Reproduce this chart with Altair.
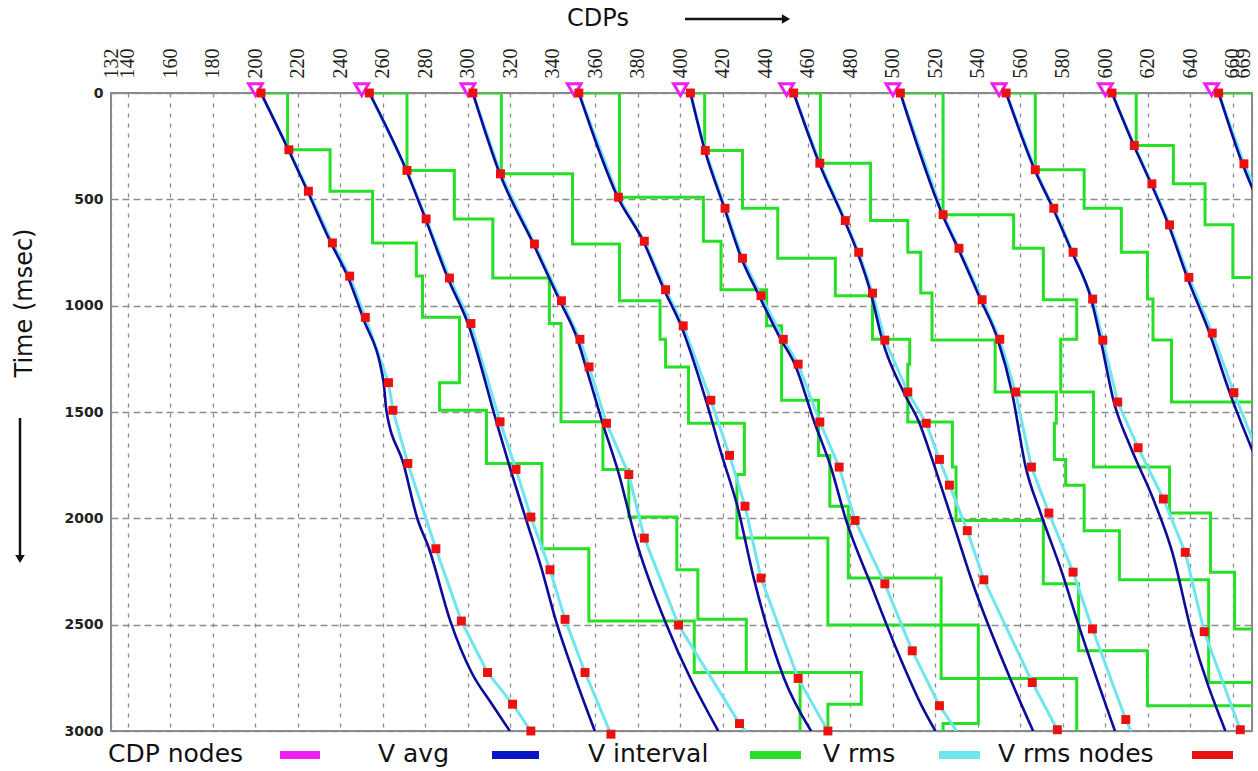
import altair as alt
import pandas as pd

# ---------------- data ----------------
X_DOMAIN = [132, 669]
T_DOMAIN = [0, 3000]
X_TICKS = [132, 140, 160, 180, 200, 220, 240, 260, 280, 300, 320, 340, 360, 380, 400,
           420, 440, 460, 480, 500, 520, 540, 560, 580, 600, 620, 640, 660, 669]
T_TICKS = [0, 500, 1000, 1500, 2000, 2500, 3000]

CDP_NODES = [200, 250, 300, 350, 400, 450, 500, 550, 600, 650]

# V rms nodes (time in msec, position in CDP units)
RMS_T = [
    [0, 267, 462, 705, 861, 1055, 1362, 1492, 1742, 2143, 2483, 2725, 2874, 3000],
    [0, 364, 592, 870, 1084, 1546, 1770, 1994, 2242, 2475, 2725, 3015],
    [0, 380, 710, 977, 1158, 1288, 1553, 1794, 2093, 2502, 2965],
    [0, 490, 697, 925, 1095, 1445, 1704, 1943, 2281, 2753, 3000],
    [0, 270, 542, 777, 953, 1158, 1275, 1547, 1759, 2010, 2308, 2623, 2881],
    [0, 330, 600, 749, 941, 1162, 1406, 1553, 1723, 1844, 2058, 2289, 2772, 2994],
    [0, 572, 730, 972, 1158, 1406, 1759, 1975, 2253, 2520, 2946],
    [0, 361, 542, 749, 969, 1162, 1453, 1668, 1909, 2160, 2533, 2994],
    [0, 247, 427, 620, 867, 1129, 1409],
    [0, 333],
]
RMS_X = [
    [202.6, 215.7, 224.9, 236.2, 244.3, 251.7, 262.6, 264.7, 271.7, 284.9, 296.9, 309.2, 321.0, 329.6],
    [253.6, 271.3, 280.3, 291.3, 301.4, 315.1, 322.6, 329.6, 338.6, 345.7, 355.1, 367.3],
    [302.3, 315.3, 331.3, 344.0, 352.7, 357.0, 365.2, 375.7, 383.0, 399.1, 427.8],
    [352.2, 370.8, 383.0, 393.0, 401.3, 414.3, 423.1, 430.4, 437.9, 455.4, 469.4],
    [404.7, 411.7, 421.0, 429.2, 437.9, 448.4, 455.4, 465.6, 474.7, 482.2, 496.2, 509.1, 521.9],
    [453.3, 465.6, 477.6, 483.9, 490.4, 496.2, 507.0, 515.7, 521.9, 526.6, 535.0, 542.8, 565.6, 577.4],
    [503.5, 523.6, 531.1, 542.0, 550.3, 557.7, 565.2, 573.4, 584.8, 593.9, 609.6],
    [553.3, 567.0, 575.7, 584.8, 594.0, 598.8, 605.8, 615.4, 627.3, 637.6, 646.5, 663.5],
    [603.1, 613.6, 621.9, 630.2, 639.3, 650.3, 660.5],
    [653.3, 665.2],
]
# where the V rms curve goes after its last node (None = ends at the node)
RMS_TAIL_T = [None, None, 3000, None, 3000, None, 3000, None, 1700, 600]
RMS_TAIL_X = [None, None, 430.5, None, 530.0, None, 612.0, None, 672.0, 678.0]

# V avg curves
AVG_T = [
    [0, 267, 462, 705, 861, 1055, 1362, 1492, 1742, 2002, 2143, 2483, 2725, 2874, 3000],
    [0, 364, 592, 870, 1084, 1546, 1770, 1994, 2242, 2475, 2725, 3000],
    [0, 380, 710, 977, 1158, 1288, 1553, 1794, 2093, 2502, 3000],
    [0, 490, 697, 925, 1095, 1445, 1704, 1943, 2281, 2753, 3000],
    [0, 270, 542, 777, 953, 1158, 1275, 1547, 1759, 2010, 2308, 2623, 2881, 3000],
    [0, 330, 600, 749, 941, 1162, 1406, 1553, 1723, 1844, 2058, 2289, 2772, 3000],
    [0, 572, 730, 972, 1158, 1406, 1759, 1975, 2253, 2520, 3000],
    [0, 361, 542, 749, 969, 1162, 1453, 1668, 1909, 2160, 2533, 3000],
    [0, 247, 427, 620, 867, 1129, 1409, 1700],
    [0, 333, 600],
]
AVG_X = [
    [202.6, 215.5, 224.5, 235.5, 243.3, 250.5, 260.3, 261.6, 269.6, 276.2, 281.7, 291.7, 301.7, 311.3, 319.7],
    [253.6, 271.0, 280.0, 290.5, 300.0, 313.4, 320.0, 327.0, 334.8, 341.2, 349.6, 359.7],
    [302.3, 315.0, 330.8, 343.2, 351.5, 355.5, 363.4, 371.1, 378.8, 393.5, 417.8],
    [352.2, 370.5, 382.5, 392.3, 400.3, 412.0, 419.5, 426.8, 434.5, 448.8, 461.5],
    [404.7, 411.5, 420.7, 428.7, 437.0, 447.2, 453.8, 463.0, 470.8, 478.0, 489.5, 502.0, 513.5, 520.0],
    [453.3, 465.3, 477.2, 483.3, 489.6, 495.0, 505.0, 512.5, 518.5, 522.5, 529.5, 537.0, 556.0, 566.0],
    [503.5, 523.3, 530.6, 541.3, 549.3, 556.0, 562.5, 569.5, 579.5, 588.0, 604.5],
    [553.3, 566.7, 575.3, 584.3, 593.3, 597.8, 604.0, 612.0, 622.5, 631.5, 640.5, 656.5],
    [603.1, 613.4, 621.5, 629.7, 638.5, 649.0, 658.5, 670.0],
    [653.3, 664.5, 676.0],
]

# V interval: one value per interval between successive rms nodes (to 3000 ms)
INT_X = [
    [215.1, 235.1, 255.1, 275.7, 278.6, 296.0, 286.6, 308.7, 334.8, 356.9, 406.5, 485.1, 469.4],
    [271.3, 293.6, 311.7, 338.3, 343.8, 363.5, 375.7, 398.3, 408.2, 431.0, 456.3],
    [315.7, 349.2, 371.3, 390.4, 393.0, 403.8, 430.1, 426.6, 469.4, 540.2, 523.6],
    [371.3, 410.8, 419.1, 440.6, 447.6, 465.0, 470.3, 479.0, 522.7, 586.5],
    [411.4, 429.2, 445.8, 472.9, 490.4, 507.9, 507.0, 528.0, 529.7, 570.8, 587.4, 619.8, 690.0],
    [465.9, 489.5, 507.0, 513.1, 518.4, 548.1, 576.9, 576.0, 581.3, 590.0, 606.6, 648.6, 690.0, 690.0],
    [523.6, 556.8, 570.8, 586.5, 579.0, 594.4, 630.2, 649.5, 660.8, 690.0, 690.0],
    [567.0, 590.0, 607.5, 619.8, 622.4, 631.1, 690.0, 690.0, 690.0, 690.0, 690.0, 690.0],
    [614.5, 632.0, 646.9, 660.0, 690.0, 690.0, 690.0],
    [690.0, 690.0],
]

LEGEND_LABELS = ["CDP nodes", "V avg", "V interval", "V rms", "V rms nodes"]

# ---------------- styles ----------------
C_MAGENTA = "#f01ef0"
C_BLUE = "#0c0c9c"
C_BLUE_KEY = "#0a14c8"
C_GREEN = "#26e026"
C_CYAN = "#6fe6ee"
C_RED = "#ec1010"
LEGEND_COLORS = [C_MAGENTA, C_BLUE_KEY, C_GREEN, C_CYAN, C_RED]

W, H = 1141, 638

# ---------------- tables ----------------
avg_rows, rms_rows, int_rows, node_rows = [], [], [], []
for k in range(len(CDP_NODES)):
    for i, (t, x) in enumerate(zip(AVG_T[k], AVG_X[k])):
        avg_rows.append({"panel": k, "seq": i, "t": t, "x": x})
    ts, xs = list(RMS_T[k]), list(RMS_X[k])
    if RMS_TAIL_T[k] is not None:
        ts.append(RMS_TAIL_T[k])
        xs.append(RMS_TAIL_X[k])
    for i, (t, x) in enumerate(zip(ts, xs)):
        rms_rows.append({"panel": k, "seq": i, "t": t, "x": x})
    for t, x in zip(RMS_T[k], RMS_X[k]):
        if x <= X_DOMAIN[1] + 1:
            node_rows.append({"panel": k, "t": t, "x": x})
    nodes = RMS_T[k]
    ends = nodes[1:] if nodes[-1] >= T_DOMAIN[1] else nodes[1:] + [T_DOMAIN[1]]
    pts = [(0, RMS_X[k][0])]
    start = 0
    for v, end in zip(INT_X[k], ends):
        pts.append((start, v))
        pts.append((end, v))
        start = end
    for i, (t, x) in enumerate(pts):
        int_rows.append({"panel": k, "seq": i, "t": t, "x": x})

avg_df = pd.DataFrame(avg_rows)
rms_df = pd.DataFrame(rms_rows)
int_df = pd.DataFrame(int_rows)
node_df = pd.DataFrame(node_rows)
cdp_df = pd.DataFrame({"x": CDP_NODES, "t": [-16] * len(CDP_NODES)})

# ---------------- encodings ----------------
x_enc = alt.X(
    "x:Q",
    scale=alt.Scale(domain=X_DOMAIN, nice=False, zero=False),
    axis=alt.Axis(
        orient="top", values=X_TICKS, title=None, labelAngle=-90,
        labelAlign="left", labelBaseline="middle", labelPadding=15,
        labelFont="Liberation Serif", labelFontSize=20, labelColor="#222",
        labelOffset=alt.condition("datum.value == 669", alt.value(-9), alt.value(0)),
        ticks=False, domain=False, grid=True, gridDash=[4, 6],
        gridColor="#8c8c8c", gridWidth=1.3, labelOverlap=False,
        labelBound=False,
    ),
)
y_enc = alt.Y(
    "t:Q",
    scale=alt.Scale(domain=T_DOMAIN, nice=False, zero=False, reverse=True),
    axis=alt.Axis(
        orient="left", values=T_TICKS, title=None, labelPadding=8, format="d",
        labelFont="DejaVu Sans", labelFontWeight="bold", labelFontSize=14,
        labelColor="#222", ticks=False, domain=False, grid=True,
        gridDash=[7, 4], gridColor="#8c8c8c", gridWidth=1.3,
    ),
)

int_layer = alt.Chart(int_df).mark_line(
    color=C_GREEN, strokeWidth=3, clip=True, interpolate="linear"
).encode(x=x_enc, y=y_enc, detail="panel:N", order="seq:Q")

rms_layer = alt.Chart(rms_df).mark_line(
    color=C_CYAN, strokeWidth=3, clip=True
).encode(x=x_enc, y=y_enc, detail="panel:N", order="seq:Q")

avg_layer = alt.Chart(avg_df).mark_line(
    color=C_BLUE, strokeWidth=2.6, clip=True, interpolate="monotone"
).encode(x=x_enc, y=y_enc, detail="panel:N", order="seq:Q")

cdp_layer = alt.Chart(cdp_df).mark_point(
    shape="triangle-down", size=190, color=C_MAGENTA, strokeWidth=3,
    fill="white", fillOpacity=0.6, opacity=1,
).encode(x=x_enc, y=y_enc)

node_layer = alt.Chart(node_df).mark_square(
    size=80, color=C_RED, opacity=1
).encode(x=x_enc, y=y_enc)

one = pd.DataFrame({"k": [0]})


def text_at(txt, x, y, size=24, angle=0, align="center", baseline="middle"):
    return alt.Chart(pd.DataFrame({"label": [txt]})).mark_text(
        font="DejaVu Sans", fontSize=size, color="#111", angle=angle,
        align=align, baseline=baseline,
    ).encode(x=alt.value(x), y=alt.value(y), text="label:N")


# titles and arrows (pixel offsets from the plot origin)
title_x = text_at("CDPs", 487, -74, size=24)
arrow_top = alt.Chart(one).mark_rule(color="#111", strokeWidth=2.5).encode(
    x=alt.value(574), x2=alt.value(672), y=alt.value(-74))
arrow_top_head = alt.Chart(one).mark_point(
    shape="triangle-right", filled=True, size=90, color="#111", opacity=1
).encode(x=alt.value(675), y=alt.value(-74))

title_y = text_at("Time (msec)", -86, 210, size=24, angle=270)
arrow_left = alt.Chart(one).mark_rule(color="#111", strokeWidth=2.5).encode(
    x=alt.value(-91), y=alt.value(325), y2=alt.value(463))
arrow_left_head = alt.Chart(one).mark_point(
    shape="triangle-down", filled=True, size=90, color="#111", opacity=1
).encode(x=alt.value(-91), y=alt.value(466))

# legend row under the plot
LEG_TEXT_X = [-3, 267, 477, 712, 887]
LEG_BAR_X = [(169, 209), (381, 428), (639, 690), (828, 869), (1081, 1122)]
legend_layers = []
for lab, col, tx, (b0, b1) in zip(LEGEND_LABELS, LEGEND_COLORS, LEG_TEXT_X, LEG_BAR_X):
    legend_layers.append(text_at(lab, tx, 669, size=25, align="left", baseline="alphabetic"))
    legend_layers.append(
        alt.Chart(one).mark_rule(color=col, strokeWidth=8).encode(
            x=alt.value(b0), x2=alt.value(b1), y=alt.value(662))
    )

chart = alt.layer(
    int_layer, rms_layer, avg_layer, cdp_layer, node_layer,
    title_x, arrow_top, arrow_top_head, title_y, arrow_left, arrow_left_head,
    *legend_layers,
).properties(
    width=W, height=H,
    autosize=alt.AutoSizeParams(type="none"),
    padding={"left": 111, "top": 93, "right": 6, "bottom": 40},
    background="white",
).configure_view(stroke="#8a8a8a", strokeWidth=2)

chart.save("out.html", embed_options={"renderer": "svg", "actions": False})
